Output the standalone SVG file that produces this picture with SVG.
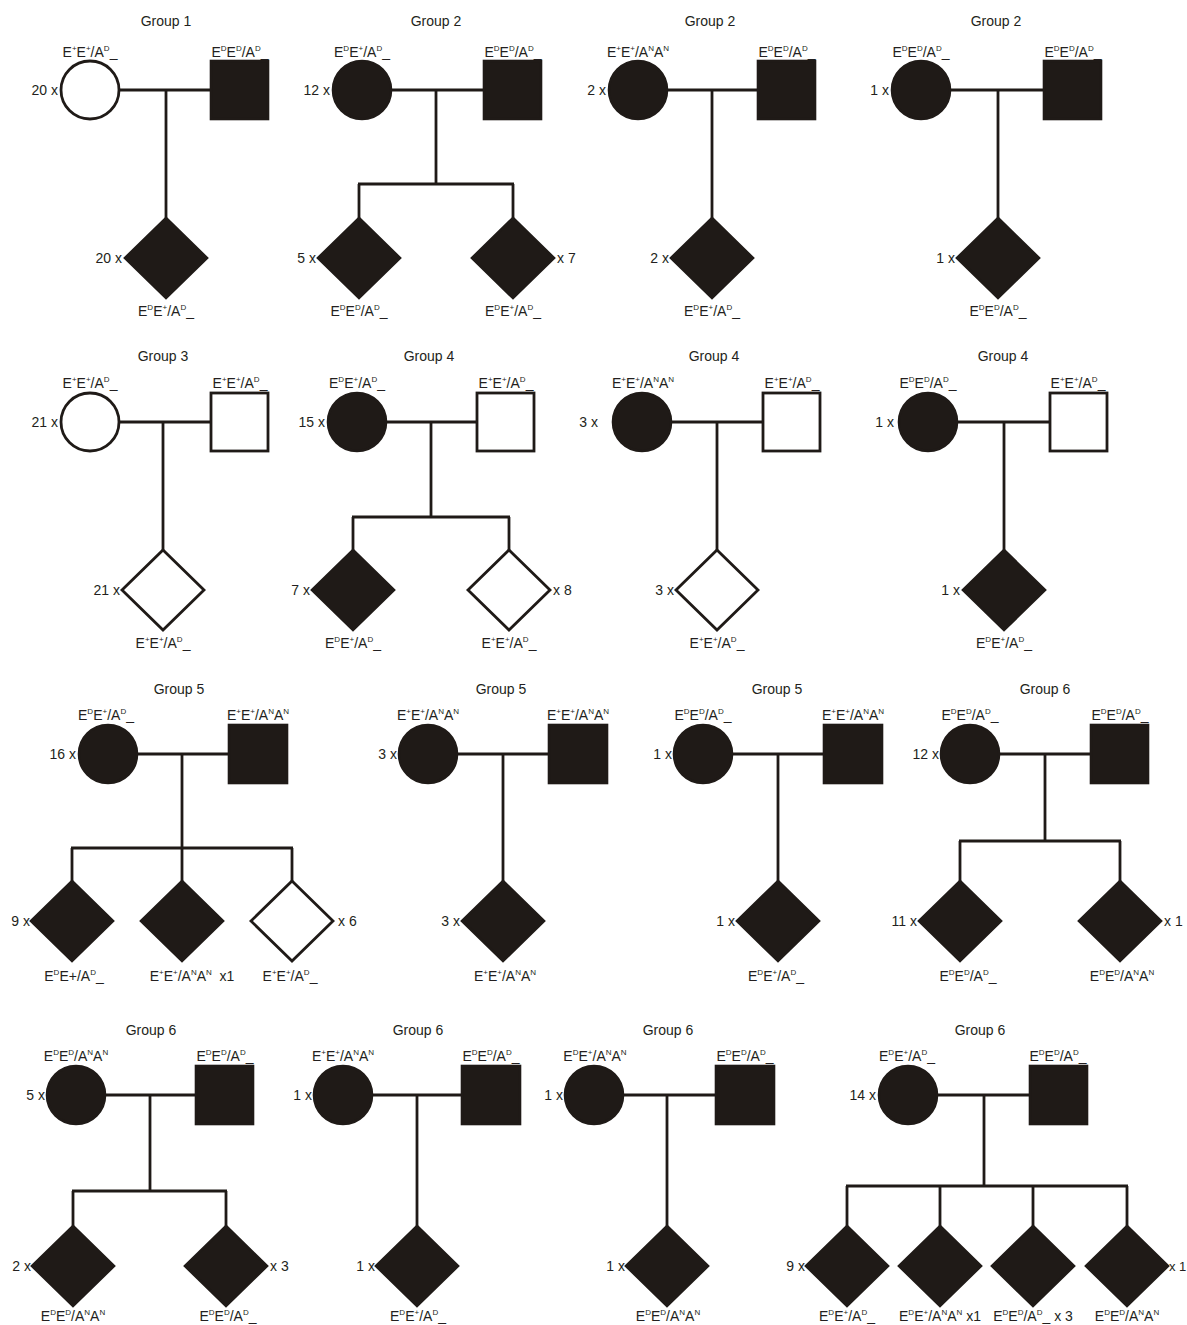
<svg xmlns="http://www.w3.org/2000/svg" xmlns:xlink="http://www.w3.org/1999/xlink" width="1187" height="1325" viewBox="0 0 1187 1325">
<style>
text{font-family:"Liberation Sans",Arial,sans-serif;font-size:14px;fill:#231f20}
.m{text-anchor:middle}
.e{text-anchor:end}
.s{font-size:8px}
.f{fill:#1f1a17;stroke:#1f1a17;stroke-width:2.6}
.o{fill:#fff;stroke:#1f1a17;stroke-width:2.8}
.c line{stroke:#1f1a17;stroke-width:2.8}
</style>
<defs>
<path id="dm" d="M0,-40 L41,0 L0,40 L-41,0Z"/>
</defs>
<rect width="1187" height="1325" fill="#fff"/>
<g class="c" id="connectors">
<line x1="119" y1="90" x2="211" y2="90"/><line x1="166" y1="90" x2="166" y2="218"/>
<line x1="391" y1="90" x2="484" y2="90"/><line x1="436" y1="90" x2="436" y2="184"/><line x1="358" y1="184" x2="514" y2="184"/><line x1="359" y1="184" x2="359" y2="218"/><line x1="513" y1="184" x2="513" y2="218"/>
<line x1="667" y1="90" x2="758" y2="90"/><line x1="712" y1="90" x2="712" y2="218"/>
<line x1="949" y1="90" x2="1044" y2="90"/><line x1="998" y1="90" x2="998" y2="218"/>
<line x1="119" y1="422" x2="211" y2="422"/><line x1="163" y1="422" x2="163" y2="550"/>
<line x1="386" y1="422" x2="477" y2="422"/><line x1="431" y1="422" x2="431" y2="517"/><line x1="352" y1="517" x2="510" y2="517"/><line x1="353" y1="517" x2="353" y2="550"/><line x1="509" y1="517" x2="509" y2="550"/>
<line x1="671" y1="422" x2="763" y2="422"/><line x1="717" y1="422" x2="717" y2="550"/>
<line x1="957" y1="422" x2="1050" y2="422"/><line x1="1004" y1="422" x2="1004" y2="550"/>
<line x1="137" y1="754" x2="229" y2="754"/><line x1="182" y1="754" x2="182" y2="848"/><line x1="71" y1="848" x2="293" y2="848"/><line x1="72" y1="848" x2="72" y2="881"/><line x1="182" y1="848" x2="182" y2="881"/><line x1="292" y1="848" x2="292" y2="881"/>
<line x1="457" y1="754" x2="549" y2="754"/><line x1="503" y1="754" x2="503" y2="881"/>
<line x1="732" y1="754" x2="824" y2="754"/><line x1="778" y1="754" x2="778" y2="881"/>
<line x1="999" y1="754" x2="1091" y2="754"/><line x1="1045" y1="754" x2="1045" y2="841"/><line x1="959" y1="841" x2="1121" y2="841"/><line x1="960" y1="841" x2="960" y2="881"/><line x1="1120" y1="841" x2="1120" y2="881"/>
<line x1="105" y1="1095" x2="196" y2="1095"/><line x1="150" y1="1095" x2="150" y2="1191"/><line x1="72" y1="1191" x2="227" y2="1191"/><line x1="73" y1="1191" x2="73" y2="1226"/><line x1="226" y1="1191" x2="226" y2="1226"/>
<line x1="372" y1="1095" x2="462" y2="1095"/><line x1="417" y1="1095" x2="417" y2="1226"/>
<line x1="623" y1="1095" x2="716" y2="1095"/><line x1="667" y1="1095" x2="667" y2="1226"/>
<line x1="937" y1="1095" x2="1030" y2="1095"/><line x1="984" y1="1095" x2="984" y2="1186"/><line x1="846" y1="1186" x2="1128" y2="1186"/><line x1="847" y1="1186" x2="847" y2="1226"/><line x1="940" y1="1186" x2="940" y2="1226"/><line x1="1033" y1="1186" x2="1033" y2="1226"/><line x1="1127" y1="1186" x2="1127" y2="1226"/>
</g>

<g id="titles">
<text class="m" x="166" y="26">Group 1</text>
<text class="m" x="436" y="26">Group 2</text>
<text class="m" x="710" y="26">Group 2</text>
<text class="m" x="996" y="26">Group 2</text>
<text class="m" x="163" y="361">Group 3</text>
<text class="m" x="429" y="361">Group 4</text>
<text class="m" x="714" y="361">Group 4</text>
<text class="m" x="1003" y="361">Group 4</text>
<text class="m" x="179" y="694">Group 5</text>
<text class="m" x="501" y="694">Group 5</text>
<text class="m" x="777" y="694">Group 5</text>
<text class="m" x="1045" y="694">Group 6</text>
<text class="m" x="151" y="1035">Group 6</text>
<text class="m" x="418" y="1035">Group 6</text>
<text class="m" x="668" y="1035">Group 6</text>
<text class="m" x="980" y="1035">Group 6</text>
</g>

<g id="A-mother"><ellipse class="o" cx="90" cy="90" rx="29" ry="29"/><text class="e" x="58" y="95">20 x</text>
<text class="m" x="90" y="57">E<tspan class="s" dy="-6">+</tspan><tspan dy="6">E</tspan><tspan class="s" dy="-6">+</tspan><tspan dy="6">/A</tspan><tspan class="s" dy="-6">D</tspan><tspan dy="6">_</tspan></text></g>
<g id="A-father"><rect class="f" x="211" y="61" width="57" height="58"/>
<text class="m" x="240" y="57">E<tspan class="s" dy="-6">D</tspan><tspan dy="6">E</tspan><tspan class="s" dy="-6">D</tspan><tspan dy="6">/A</tspan><tspan class="s" dy="-6">D</tspan><tspan dy="6">_</tspan></text></g>
<g id="A-child"><use xlink:href="#dm" class="f" x="166" y="258"/><text class="e" x="122" y="263">20 x</text>
<text class="m" x="166" y="316">E<tspan class="s" dy="-6">D</tspan><tspan dy="6">E</tspan><tspan class="s" dy="-6">+</tspan><tspan dy="6">/A</tspan><tspan class="s" dy="-6">D</tspan><tspan dy="6">_</tspan></text></g>

<g id="B-mother"><ellipse class="f" cx="362" cy="90" rx="29" ry="29"/><text class="e" x="330" y="95">12 x</text>
<text class="m" x="362" y="57">E<tspan class="s" dy="-6">D</tspan><tspan dy="6">E</tspan><tspan class="s" dy="-6">+</tspan><tspan dy="6">/A</tspan><tspan class="s" dy="-6">D</tspan><tspan dy="6">_</tspan></text></g>
<g id="B-father"><rect class="f" x="484" y="61" width="57" height="58"/>
<text class="m" x="513" y="57">E<tspan class="s" dy="-6">D</tspan><tspan dy="6">E</tspan><tspan class="s" dy="-6">D</tspan><tspan dy="6">/A</tspan><tspan class="s" dy="-6">D</tspan><tspan dy="6">_</tspan></text></g>
<g id="B-child1"><use xlink:href="#dm" class="f" x="359" y="258"/><text class="e" x="316" y="263">5 x</text>
<text class="m" x="359" y="316">E<tspan class="s" dy="-6">D</tspan><tspan dy="6">E</tspan><tspan class="s" dy="-6">D</tspan><tspan dy="6">/A</tspan><tspan class="s" dy="-6">D</tspan><tspan dy="6">_</tspan></text></g>
<g id="B-child2"><use xlink:href="#dm" class="f" x="513" y="258"/><text x="557" y="263">x 7</text>
<text class="m" x="513" y="316">E<tspan class="s" dy="-6">D</tspan><tspan dy="6">E</tspan><tspan class="s" dy="-6">+</tspan><tspan dy="6">/A</tspan><tspan class="s" dy="-6">D</tspan><tspan dy="6">_</tspan></text></g>

<g id="C-mother"><ellipse class="f" cx="638" cy="90" rx="29" ry="29"/><text class="e" x="606" y="95">2 x</text>
<text class="m" x="638" y="57">E<tspan class="s" dy="-6">+</tspan><tspan dy="6">E</tspan><tspan class="s" dy="-6">+</tspan><tspan dy="6">/A</tspan><tspan class="s" dy="-6">N</tspan><tspan dy="6">A</tspan><tspan class="s" dy="-6">N</tspan></text></g>
<g id="C-father"><rect class="f" x="758" y="61" width="57" height="58"/>
<text class="m" x="787" y="57">E<tspan class="s" dy="-6">D</tspan><tspan dy="6">E</tspan><tspan class="s" dy="-6">D</tspan><tspan dy="6">/A</tspan><tspan class="s" dy="-6">D</tspan><tspan dy="6">_</tspan></text></g>
<g id="C-child"><use xlink:href="#dm" class="f" x="712" y="258"/><text class="e" x="669" y="263">2 x</text>
<text class="m" x="712" y="316">E<tspan class="s" dy="-6">D</tspan><tspan dy="6">E</tspan><tspan class="s" dy="-6">+</tspan><tspan dy="6">/A</tspan><tspan class="s" dy="-6">D</tspan><tspan dy="6">_</tspan></text></g>

<g id="D-mother"><ellipse class="f" cx="921" cy="90" rx="29" ry="29"/><text class="e" x="889" y="95">1 x</text>
<text class="m" x="921" y="57">E<tspan class="s" dy="-6">D</tspan><tspan dy="6">E</tspan><tspan class="s" dy="-6">D</tspan><tspan dy="6">/A</tspan><tspan class="s" dy="-6">D</tspan><tspan dy="6">_</tspan></text></g>
<g id="D-father"><rect class="f" x="1044" y="61" width="57" height="58"/>
<text class="m" x="1073" y="57">E<tspan class="s" dy="-6">D</tspan><tspan dy="6">E</tspan><tspan class="s" dy="-6">D</tspan><tspan dy="6">/A</tspan><tspan class="s" dy="-6">D</tspan><tspan dy="6">_</tspan></text></g>
<g id="D-child"><use xlink:href="#dm" class="f" x="998" y="258"/><text class="e" x="955" y="263">1 x</text>
<text class="m" x="998" y="316">E<tspan class="s" dy="-6">D</tspan><tspan dy="6">E</tspan><tspan class="s" dy="-6">D</tspan><tspan dy="6">/A</tspan><tspan class="s" dy="-6">D</tspan><tspan dy="6">_</tspan></text></g>

<g id="E-mother"><ellipse class="o" cx="90" cy="422" rx="29" ry="29"/><text class="e" x="58" y="427">21 x</text>
<text class="m" x="90" y="388">E<tspan class="s" dy="-6">+</tspan><tspan dy="6">E</tspan><tspan class="s" dy="-6">+</tspan><tspan dy="6">/A</tspan><tspan class="s" dy="-6">D</tspan><tspan dy="6">_</tspan></text></g>
<g id="E-father"><rect class="o" x="211" y="393" width="57" height="58"/>
<text class="m" x="240" y="388">E<tspan class="s" dy="-6">+</tspan><tspan dy="6">E</tspan><tspan class="s" dy="-6">+</tspan><tspan dy="6">/A</tspan><tspan class="s" dy="-6">D</tspan><tspan dy="6">_</tspan></text></g>
<g id="E-child"><use xlink:href="#dm" class="o" x="163" y="590"/><text class="e" x="120" y="595">21 x</text>
<text class="m" x="163" y="648">E<tspan class="s" dy="-6">+</tspan><tspan dy="6">E</tspan><tspan class="s" dy="-6">+</tspan><tspan dy="6">/A</tspan><tspan class="s" dy="-6">D</tspan><tspan dy="6">_</tspan></text></g>

<g id="F-mother"><ellipse class="f" cx="357" cy="422" rx="29" ry="29"/><text class="e" x="325" y="427">15 x</text>
<text class="m" x="357" y="388">E<tspan class="s" dy="-6">D</tspan><tspan dy="6">E</tspan><tspan class="s" dy="-6">+</tspan><tspan dy="6">/A</tspan><tspan class="s" dy="-6">D</tspan><tspan dy="6">_</tspan></text></g>
<g id="F-father"><rect class="o" x="477" y="393" width="57" height="58"/>
<text class="m" x="506" y="388">E<tspan class="s" dy="-6">+</tspan><tspan dy="6">E</tspan><tspan class="s" dy="-6">+</tspan><tspan dy="6">/A</tspan><tspan class="s" dy="-6">D</tspan><tspan dy="6">_</tspan></text></g>
<g id="F-child1"><use xlink:href="#dm" class="f" x="353" y="590"/><text class="e" x="310" y="595">7 x</text>
<text class="m" x="353" y="648">E<tspan class="s" dy="-6">D</tspan><tspan dy="6">E</tspan><tspan class="s" dy="-6">+</tspan><tspan dy="6">/A</tspan><tspan class="s" dy="-6">D</tspan><tspan dy="6">_</tspan></text></g>
<g id="F-child2"><use xlink:href="#dm" class="o" x="509" y="590"/><text x="553" y="595">x 8</text>
<text class="m" x="509" y="648">E<tspan class="s" dy="-6">+</tspan><tspan dy="6">E</tspan><tspan class="s" dy="-6">+</tspan><tspan dy="6">/A</tspan><tspan class="s" dy="-6">D</tspan><tspan dy="6">_</tspan></text></g>

<g id="G-mother"><ellipse class="f" cx="642" cy="422" rx="29" ry="29"/><text class="e" x="598" y="427">3 x</text>
<text class="m" x="643" y="388">E<tspan class="s" dy="-6">+</tspan><tspan dy="6">E</tspan><tspan class="s" dy="-6">+</tspan><tspan dy="6">/A</tspan><tspan class="s" dy="-6">N</tspan><tspan dy="6">A</tspan><tspan class="s" dy="-6">N</tspan></text></g>
<g id="G-father"><rect class="o" x="763" y="393" width="57" height="58"/>
<text class="m" x="792" y="388">E<tspan class="s" dy="-6">+</tspan><tspan dy="6">E</tspan><tspan class="s" dy="-6">+</tspan><tspan dy="6">/A</tspan><tspan class="s" dy="-6">D</tspan><tspan dy="6">_</tspan></text></g>
<g id="G-child"><use xlink:href="#dm" class="o" x="717" y="590"/><text class="e" x="674" y="595">3 x</text>
<text class="m" x="717" y="648">E<tspan class="s" dy="-6">+</tspan><tspan dy="6">E</tspan><tspan class="s" dy="-6">+</tspan><tspan dy="6">/A</tspan><tspan class="s" dy="-6">D</tspan><tspan dy="6">_</tspan></text></g>

<g id="H-mother"><ellipse class="f" cx="928" cy="422" rx="29" ry="29"/><text class="e" x="894" y="427">1 x</text>
<text class="m" x="928" y="388">E<tspan class="s" dy="-6">D</tspan><tspan dy="6">E</tspan><tspan class="s" dy="-6">D</tspan><tspan dy="6">/A</tspan><tspan class="s" dy="-6">D</tspan><tspan dy="6">_</tspan></text></g>
<g id="H-father"><rect class="o" x="1050" y="393" width="57" height="58"/>
<text class="m" x="1078" y="388">E<tspan class="s" dy="-6">+</tspan><tspan dy="6">E</tspan><tspan class="s" dy="-6">+</tspan><tspan dy="6">/A</tspan><tspan class="s" dy="-6">D</tspan><tspan dy="6">_</tspan></text></g>
<g id="H-child"><use xlink:href="#dm" class="f" x="1004" y="590"/><text class="e" x="960" y="595">1 x</text>
<text class="m" x="1004" y="648">E<tspan class="s" dy="-6">D</tspan><tspan dy="6">E</tspan><tspan class="s" dy="-6">+</tspan><tspan dy="6">/A</tspan><tspan class="s" dy="-6">D</tspan><tspan dy="6">_</tspan></text></g>

<g id="I-mother"><ellipse class="f" cx="108" cy="754" rx="29" ry="29"/><text class="e" x="76" y="759">16 x</text>
<text class="m" x="106" y="720">E<tspan class="s" dy="-6">D</tspan><tspan dy="6">E</tspan><tspan class="s" dy="-6">+</tspan><tspan dy="6">/A</tspan><tspan class="s" dy="-6">D</tspan><tspan dy="6">_</tspan></text></g>
<g id="I-father"><rect class="f" x="229" y="725" width="58" height="58"/>
<text class="m" x="258" y="720">E<tspan class="s" dy="-6">+</tspan><tspan dy="6">E</tspan><tspan class="s" dy="-6">+</tspan><tspan dy="6">/A</tspan><tspan class="s" dy="-6">N</tspan><tspan dy="6">A</tspan><tspan class="s" dy="-6">N</tspan></text></g>
<g id="I-child1"><use xlink:href="#dm" class="f" x="72" y="921"/><text class="e" x="30" y="926">9 x</text>
<text class="m" x="74" y="981">E<tspan class="s" dy="-6">D</tspan><tspan dy="6">E+/A</tspan><tspan class="s" dy="-6">D</tspan><tspan dy="6">_</tspan></text></g>
<g id="I-child2"><use xlink:href="#dm" class="f" x="182" y="921"/>
<text class="m" x="192" y="981">E<tspan class="s" dy="-6">+</tspan><tspan dy="6">E</tspan><tspan class="s" dy="-6">+</tspan><tspan dy="6">/A</tspan><tspan class="s" dy="-6">N</tspan><tspan dy="6">A</tspan><tspan class="s" dy="-6">N</tspan><tspan dy="6" xml:space="preserve">  x1</tspan></text></g>
<g id="I-child3"><use xlink:href="#dm" class="o" x="292" y="921"/><text x="338" y="926">x 6</text>
<text class="m" x="290" y="981">E<tspan class="s" dy="-6">+</tspan><tspan dy="6">E</tspan><tspan class="s" dy="-6">+</tspan><tspan dy="6">/A</tspan><tspan class="s" dy="-6">D</tspan><tspan dy="6">_</tspan></text></g>

<g id="J-mother"><ellipse class="f" cx="428" cy="754" rx="29" ry="29"/><text class="e" x="397" y="759">3 x</text>
<text class="m" x="428" y="720">E<tspan class="s" dy="-6">+</tspan><tspan dy="6">E</tspan><tspan class="s" dy="-6">+</tspan><tspan dy="6">/A</tspan><tspan class="s" dy="-6">N</tspan><tspan dy="6">A</tspan><tspan class="s" dy="-6">N</tspan></text></g>
<g id="J-father"><rect class="f" x="549" y="725" width="58" height="58"/>
<text class="m" x="578" y="720">E<tspan class="s" dy="-6">+</tspan><tspan dy="6">E</tspan><tspan class="s" dy="-6">+</tspan><tspan dy="6">/A</tspan><tspan class="s" dy="-6">N</tspan><tspan dy="6">A</tspan><tspan class="s" dy="-6">N</tspan></text></g>
<g id="J-child"><use xlink:href="#dm" class="f" x="503" y="921"/><text class="e" x="460" y="926">3 x</text>
<text class="m" x="505" y="981">E<tspan class="s" dy="-6">+</tspan><tspan dy="6">E</tspan><tspan class="s" dy="-6">+</tspan><tspan dy="6">/A</tspan><tspan class="s" dy="-6">N</tspan><tspan dy="6">A</tspan><tspan class="s" dy="-6">N</tspan></text></g>

<g id="K-mother"><ellipse class="f" cx="703" cy="754" rx="29" ry="29"/><text class="e" x="672" y="759">1 x</text>
<text class="m" x="703" y="720">E<tspan class="s" dy="-6">D</tspan><tspan dy="6">E</tspan><tspan class="s" dy="-6">D</tspan><tspan dy="6">/A</tspan><tspan class="s" dy="-6">D</tspan><tspan dy="6">_</tspan></text></g>
<g id="K-father"><rect class="f" x="824" y="725" width="58" height="58"/>
<text class="m" x="853" y="720">E<tspan class="s" dy="-6">+</tspan><tspan dy="6">E</tspan><tspan class="s" dy="-6">+</tspan><tspan dy="6">/A</tspan><tspan class="s" dy="-6">N</tspan><tspan dy="6">A</tspan><tspan class="s" dy="-6">N</tspan></text></g>
<g id="K-child"><use xlink:href="#dm" class="f" x="778" y="921"/><text class="e" x="735" y="926">1 x</text>
<text class="m" x="776" y="981">E<tspan class="s" dy="-6">D</tspan><tspan dy="6">E</tspan><tspan class="s" dy="-6">+</tspan><tspan dy="6">/A</tspan><tspan class="s" dy="-6">D</tspan><tspan dy="6">_</tspan></text></g>

<g id="L-mother"><ellipse class="f" cx="970" cy="754" rx="29" ry="29"/><text class="e" x="939" y="759">12 x</text>
<text class="m" x="970" y="720">E<tspan class="s" dy="-6">D</tspan><tspan dy="6">E</tspan><tspan class="s" dy="-6">D</tspan><tspan dy="6">/A</tspan><tspan class="s" dy="-6">D</tspan><tspan dy="6">_</tspan></text></g>
<g id="L-father"><rect class="f" x="1091" y="725" width="57" height="58"/>
<text class="m" x="1120" y="720">E<tspan class="s" dy="-6">D</tspan><tspan dy="6">E</tspan><tspan class="s" dy="-6">D</tspan><tspan dy="6">/A</tspan><tspan class="s" dy="-6">D</tspan><tspan dy="6">_</tspan></text></g>
<g id="L-child1"><use xlink:href="#dm" class="f" x="960" y="921"/><text class="e" x="917" y="926">11 x</text>
<text class="m" x="968" y="981">E<tspan class="s" dy="-6">D</tspan><tspan dy="6">E</tspan><tspan class="s" dy="-6">D</tspan><tspan dy="6">/A</tspan><tspan class="s" dy="-6">D</tspan><tspan dy="6">_</tspan></text></g>
<g id="L-child2"><use xlink:href="#dm" class="f" x="1120" y="921"/><text x="1164" y="926">x 1</text>
<text class="m" x="1122" y="981">E<tspan class="s" dy="-6">D</tspan><tspan dy="6">E</tspan><tspan class="s" dy="-6">D</tspan><tspan dy="6">/A</tspan><tspan class="s" dy="-6">N</tspan><tspan dy="6">A</tspan><tspan class="s" dy="-6">N</tspan></text></g>

<g id="M-mother"><ellipse class="f" cx="76" cy="1095" rx="29" ry="29"/><text class="e" x="45" y="1100">5 x</text>
<text class="m" x="76" y="1061">E<tspan class="s" dy="-6">D</tspan><tspan dy="6">E</tspan><tspan class="s" dy="-6">D</tspan><tspan dy="6">/A</tspan><tspan class="s" dy="-6">N</tspan><tspan dy="6">A</tspan><tspan class="s" dy="-6">N</tspan></text></g>
<g id="M-father"><rect class="f" x="196" y="1066" width="57" height="58"/>
<text class="m" x="225" y="1061">E<tspan class="s" dy="-6">D</tspan><tspan dy="6">E</tspan><tspan class="s" dy="-6">D</tspan><tspan dy="6">/A</tspan><tspan class="s" dy="-6">D</tspan><tspan dy="6">_</tspan></text></g>
<g id="M-child1"><use xlink:href="#dm" class="f" x="73" y="1266"/><text class="e" x="31" y="1271">2 x</text>
<text class="m" x="73" y="1321">E<tspan class="s" dy="-6">D</tspan><tspan dy="6">E</tspan><tspan class="s" dy="-6">D</tspan><tspan dy="6">/A</tspan><tspan class="s" dy="-6">N</tspan><tspan dy="6">A</tspan><tspan class="s" dy="-6">N</tspan></text></g>
<g id="M-child2"><use xlink:href="#dm" class="f" x="226" y="1266"/><text x="270" y="1271">x 3</text>
<text class="m" x="228" y="1321">E<tspan class="s" dy="-6">D</tspan><tspan dy="6">E</tspan><tspan class="s" dy="-6">D</tspan><tspan dy="6">/A</tspan><tspan class="s" dy="-6">D</tspan><tspan dy="6">_</tspan></text></g>

<g id="N-mother"><ellipse class="f" cx="343" cy="1095" rx="29" ry="29"/><text class="e" x="312" y="1100">1 x</text>
<text class="m" x="343" y="1061">E<tspan class="s" dy="-6">+</tspan><tspan dy="6">E</tspan><tspan class="s" dy="-6">+</tspan><tspan dy="6">/A</tspan><tspan class="s" dy="-6">N</tspan><tspan dy="6">A</tspan><tspan class="s" dy="-6">N</tspan></text></g>
<g id="N-father"><rect class="f" x="462" y="1066" width="58" height="58"/>
<text class="m" x="491" y="1061">E<tspan class="s" dy="-6">D</tspan><tspan dy="6">E</tspan><tspan class="s" dy="-6">D</tspan><tspan dy="6">/A</tspan><tspan class="s" dy="-6">D</tspan><tspan dy="6">_</tspan></text></g>
<g id="N-child"><use xlink:href="#dm" class="f" x="417" y="1266"/><text class="e" x="375" y="1271">1 x</text>
<text class="m" x="418" y="1321">E<tspan class="s" dy="-6">D</tspan><tspan dy="6">E</tspan><tspan class="s" dy="-6">+</tspan><tspan dy="6">/A</tspan><tspan class="s" dy="-6">D</tspan><tspan dy="6">_</tspan></text></g>

<g id="O-mother"><ellipse class="f" cx="594" cy="1095" rx="29" ry="29"/><text class="e" x="563" y="1100">1 x</text>
<text class="m" x="595" y="1061">E<tspan class="s" dy="-6">D</tspan><tspan dy="6">E</tspan><tspan class="s" dy="-6">+</tspan><tspan dy="6">/A</tspan><tspan class="s" dy="-6">N</tspan><tspan dy="6">A</tspan><tspan class="s" dy="-6">N</tspan></text></g>
<g id="O-father"><rect class="f" x="716" y="1066" width="58" height="58"/>
<text class="m" x="745" y="1061">E<tspan class="s" dy="-6">D</tspan><tspan dy="6">E</tspan><tspan class="s" dy="-6">D</tspan><tspan dy="6">/A</tspan><tspan class="s" dy="-6">D</tspan><tspan dy="6">_</tspan></text></g>
<g id="O-child"><use xlink:href="#dm" class="f" x="667" y="1266"/><text class="e" x="625" y="1271">1 x</text>
<text class="m" x="668" y="1321">E<tspan class="s" dy="-6">D</tspan><tspan dy="6">E</tspan><tspan class="s" dy="-6">D</tspan><tspan dy="6">/A</tspan><tspan class="s" dy="-6">N</tspan><tspan dy="6">A</tspan><tspan class="s" dy="-6">N</tspan></text></g>

<g id="P-mother"><ellipse class="f" cx="908" cy="1095" rx="29" ry="29"/><text class="e" x="876" y="1100">14 x</text>
<text class="m" x="907" y="1061">E<tspan class="s" dy="-6">D</tspan><tspan dy="6">E</tspan><tspan class="s" dy="-6">+</tspan><tspan dy="6">/A</tspan><tspan class="s" dy="-6">D</tspan><tspan dy="6">_</tspan></text></g>
<g id="P-father"><rect class="f" x="1030" y="1066" width="57" height="58"/>
<text class="m" x="1058" y="1061">E<tspan class="s" dy="-6">D</tspan><tspan dy="6">E</tspan><tspan class="s" dy="-6">D</tspan><tspan dy="6">/A</tspan><tspan class="s" dy="-6">D</tspan><tspan dy="6">_</tspan></text></g>
<g id="P-child1"><use xlink:href="#dm" class="f" x="847" y="1266"/><text class="e" x="805" y="1271">9 x</text>
<text class="m" x="847" y="1321">E<tspan class="s" dy="-6">D</tspan><tspan dy="6">E</tspan><tspan class="s" dy="-6">+</tspan><tspan dy="6">/A</tspan><tspan class="s" dy="-6">D</tspan><tspan dy="6">_</tspan></text></g>
<g id="P-child2"><use xlink:href="#dm" class="f" x="940" y="1266"/>
<text class="m" x="940" y="1321">E<tspan class="s" dy="-6">D</tspan><tspan dy="6">E</tspan><tspan class="s" dy="-6">+</tspan><tspan dy="6">/A</tspan><tspan class="s" dy="-6">N</tspan><tspan dy="6">A</tspan><tspan class="s" dy="-6">N</tspan><tspan dy="6"> x1</tspan></text></g>
<g id="P-child3"><use xlink:href="#dm" class="f" x="1033" y="1266"/>
<text class="m" x="1033" y="1321">E<tspan class="s" dy="-6">D</tspan><tspan dy="6">E</tspan><tspan class="s" dy="-6">D</tspan><tspan dy="6">/A</tspan><tspan class="s" dy="-6">D</tspan><tspan dy="6">_ x 3</tspan></text></g>
<g id="P-child4"><use xlink:href="#dm" class="f" x="1127" y="1266"/><text x="1169" y="1271" style="font-size:13px">x 1</text>
<text class="m" x="1127" y="1321">E<tspan class="s" dy="-6">D</tspan><tspan dy="6">E</tspan><tspan class="s" dy="-6">D</tspan><tspan dy="6">/A</tspan><tspan class="s" dy="-6">N</tspan><tspan dy="6">A</tspan><tspan class="s" dy="-6">N</tspan></text></g>
</svg>
